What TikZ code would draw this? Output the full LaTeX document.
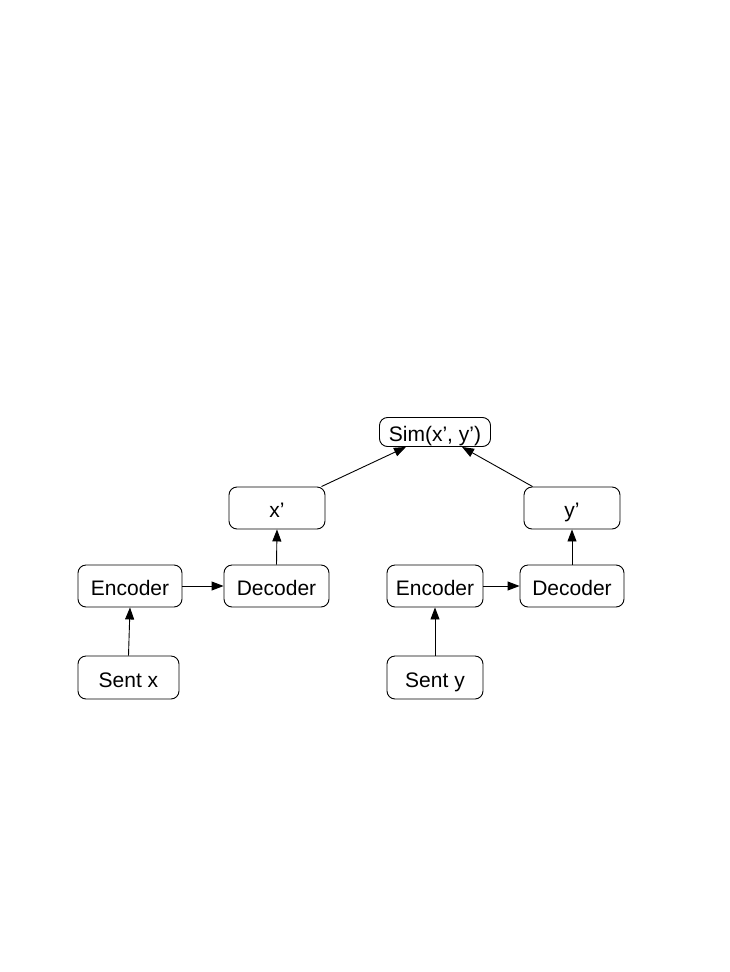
\documentclass[tikz,border=0pt]{standalone}
\usepackage{fontspec}
\setmainfont{Liberation Sans}
\usetikzlibrary{arrows.meta}
\begin{document}
\begin{tikzpicture}[x=1pt,y=-1pt,
  box/.style={draw, line width=0.9pt, rounded corners=8pt, inner sep=0pt,
    font=\fontsize{21}{24}\selectfont, text height=19pt, text depth=0pt},
  arr/.style={line width=0.9pt, -{Triangle[length=12pt,width=9pt]}}]
\useasboundingbox (0,0) rectangle (729,972);
\node[box, minimum width=111pt, minimum height=29pt] (sim) at (435,432) {Sim(x’, y’)};
\node[box, minimum width=96pt, minimum height=42pt] (xp) at (277,508) {x’};
\node[box, minimum width=96pt, minimum height=42pt] (yp) at (572,508) {y’};
\node[box, minimum width=104pt, minimum height=42pt] (e1) at (130,586) {Encoder};
\node[box, minimum width=105pt, minimum height=42pt] (d1) at (276.5,586) {Decoder};
\node[box, minimum width=96pt, minimum height=42pt] (e2) at (435,586) {Encoder};
\node[box, minimum width=104pt, minimum height=42pt] (d2) at (572,586) {Decoder};
\node[box, minimum width=101pt, minimum height=43pt] (sx) at (128.5,677.5) {Sent x};
\node[box, minimum width=96pt, minimum height=43pt] (sy) at (435,677.5) {Sent y};
\draw[arr] (sx.north) -- (e1.south);
\draw[arr] (sy.north) -- (e2.south);
\draw[arr] (e1.east) -- (d1.west);
\draw[arr] (e2.east) -- (d2.west);
\draw[arr] (d1.north) -- (xp.south);
\draw[arr] (d2.north) -- (yp.south);
\draw[arr] ([xshift=-4pt]xp.north east) -- ([xshift=-29pt]sim.south);
\draw[arr] ([xshift=9pt]yp.north west) -- ([xshift=27pt]sim.south);
\end{tikzpicture}
\end{document}
